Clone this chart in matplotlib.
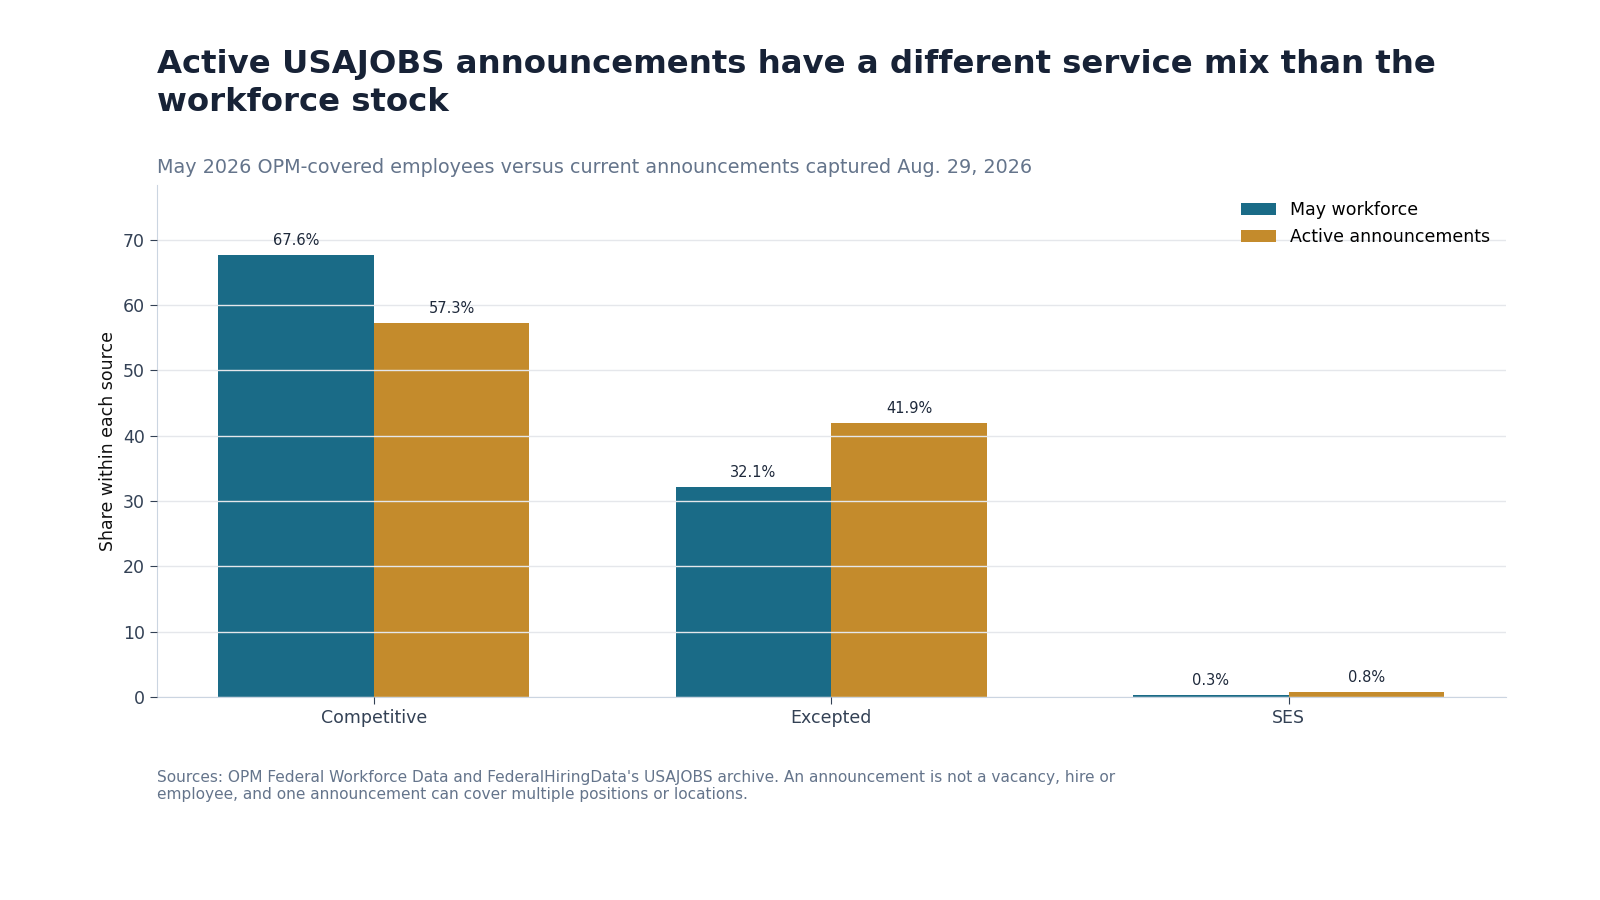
import numpy as np
import matplotlib
matplotlib.use("Agg")
import matplotlib.pyplot as plt

# dados
categorias = ["Competitive", "Excepted", "SES"]
workforce = [67.6, 32.1, 0.3]
anuncios = [57.3, 41.9, 0.8]

cor_workforce = "#1a6b87"
cor_anuncios = "#c48b2c"

fig = plt.figure(figsize=(16, 9), dpi=100)
ax = fig.add_axes([0.098, 0.2256, 0.843, 0.5684])

x = np.arange(len(categorias))
largura = 0.34

b1 = ax.bar(x - largura / 2, workforce, largura, color=cor_workforce, label="May workforce", zorder=2)
b2 = ax.bar(x + largura / 2, anuncios, largura, color=cor_anuncios, label="Active announcements", zorder=2)

for barras in (b1, b2):
    ax.bar_label(barras, labels=[f"{v:.1f}%" for v in barras.datavalues], padding=5,
                 fontsize=10.5, color="#1e293b")

ax.set_ylim(0, 78.3)
ax.set_yticks(np.arange(0, 71, 10))
ax.set_xticks(x)
ax.set_xticklabels(categorias)
ax.tick_params(axis="both", labelsize=12.5, colors="#334155", length=5, color="#334155")
ax.grid(axis="y", color="#e5e7eb", linewidth=1, zorder=3)
ax.set_axisbelow(False)
ax.set_ylabel("Share within each source", fontsize=12.5, color="#111111")

for s in ("top", "right"):
    ax.spines[s].set_visible(False)
ax.spines["left"].set_color("#cbd5e1")
ax.spines["bottom"].set_color("#cbd5e1")

ax.legend(loc="upper right", frameon=False, fontsize=12.5, handlelength=2.0,
          bbox_to_anchor=(1.0, 1.0))

fig.text(0.098, 0.946, "Active USAJOBS announcements have a different service mix than the\nworkforce stock",
         fontsize=23.3, fontweight="bold", color="#172236", va="top", ha="left", linespacing=1.3)
fig.text(0.098, 0.814, "May 2026 OPM-covered employees versus current announcements captured Aug. 29, 2026",
         fontsize=13.8, color="#64748b", va="center", ha="left")
fig.text(0.098, 0.127, "Sources: OPM Federal Workforce Data and FederalHiringData's USAJOBS archive. An announcement is not a vacancy, hire or\nemployee, and one announcement can cover multiple positions or locations.",
         fontsize=11.1, color="#64748b", va="center", ha="left", linespacing=1.15)

fig.savefig("out.png", dpi=100)
